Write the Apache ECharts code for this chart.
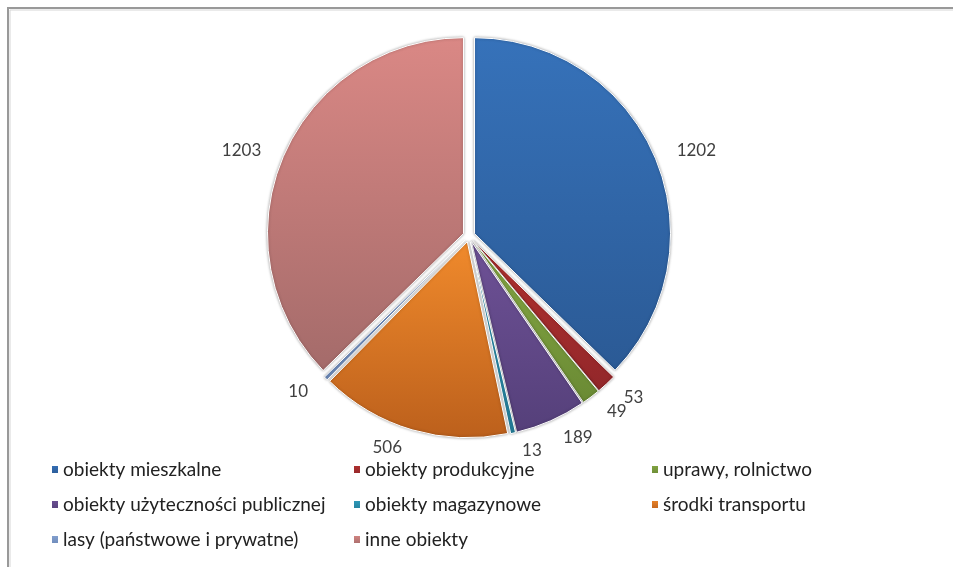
<!DOCTYPE html>
<html>
<head>
<meta charset="utf-8">
<script src="https://cdn.jsdelivr.net/npm/echarts@6/dist/echarts.min.js"></script>
<style>
  html, body { margin: 0; padding: 0; background: #fff; }
  #chart { width: 953px; height: 567px; }
</style>
</head>
<body>
<div id="chart"></div>
<script>
const categories = [
  'obiekty mieszkalne',
  'obiekty produkcyjne',
  'uprawy, rolnictwo',
  'obiekty użyteczności publicznej',
  'obiekty magazynowe',
  'środki transportu',
  'lasy (państwowe i prywatne)',
  'inne obiekty'
]
const values = [1202, 53, 49, 189, 13, 506, 10, 1203]
// top / bottom shade of each slice gradient
const colorsTop = ['#3672ba', '#b3312f', '#86a844', '#6e5196', '#2f9dbd', '#f08a2c', '#86a3d2', '#da8885']
const colorsBottom = ['#2b5a95', '#92272a', '#6a8a34', '#55407a', '#257f9b', '#bc601c', '#6c89b8', '#a46b6a']

// legend columns (Excel lays the legend out row by row, 3 per row)
const legendCols = [
  [categories[0], categories[3], categories[6]],
  [categories[1], categories[4], categories[7]],
  [categories[2], categories[5]]
]
const legendLeft = [45, 347, 645]

const grad = (i) => new echarts.graphic.LinearGradient(0, 0, 0, 1, [
  { offset: 0, color: colorsTop[i] },
  { offset: 1, color: colorsBottom[i] }
])

const chart = echarts.init(document.getElementById('chart'))

chart.setOption({
  animation: false,
  color: colorsTop,
  textStyle: { fontFamily: 'Lato, "Open Sans", sans-serif' },
  graphic: [{
    type: 'rect',
    shape: { x: 8, y: 8, width: 1000, height: 600 },
    style: { fill: 'none', stroke: '#999', lineWidth: 2 },
    silent: true
  }, {
    type: 'polyline',
    shape: { points: [[10, 1000], [10, 10], [1000, 10]] },
    style: { fill: 'none', stroke: '#d6d6d6', lineWidth: 1 },
    silent: true
  }],
  legend: legendCols.map((col, k) => ({
    orient: 'vertical',
    left: legendLeft[k],
    top: 455,
    itemWidth: 8,
    itemHeight: 9,
    itemGap: 16,
    icon: 'rect',
    selectedMode: false,
    textStyle: { fontSize: 19, color: '#222', padding: [0, 0, 0, -1] },
    data: col
  })),
  series: [{
    type: 'pie',
    center: [469, 236],
    radius: 196,
    startAngle: 90,
    clockwise: true,
    avoidLabelOverlap: false,
    selectedMode: 'multiple',
    selectedOffset: 6,
    emphasis: { disabled: true },
    label: {
      show: true,
      position: 'outside',
      formatter: '{c}',
      fontSize: 17,
      color: '#404040'
    },
    labelLine: { show: false, length: 18, length2: 0 },
    labelLayout: { hideOverlap: false },
    itemStyle: {
      borderColor: '#fff',
      borderWidth: 1,
      shadowBlur: 3,
      shadowColor: 'rgba(0,0,0,0.35)'
    },
    data: categories.map((name, i) => ({
      name,
      value: values[i],
      selected: true,
      itemStyle: { color: grad(i) }
    }))
  }]
})
</script>
</body>
</html>
